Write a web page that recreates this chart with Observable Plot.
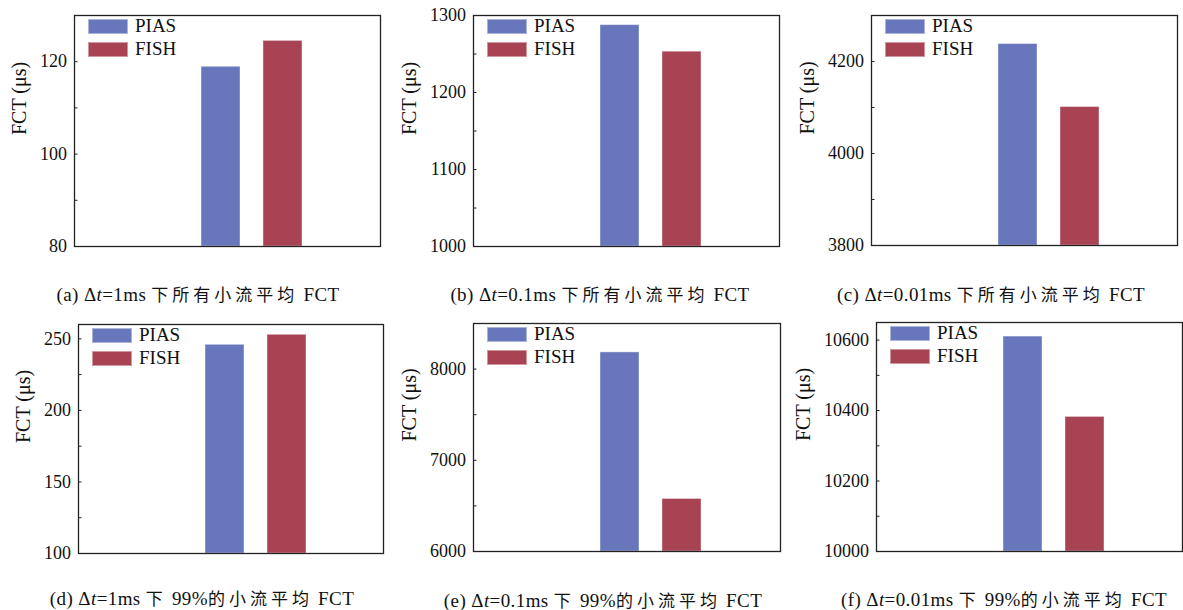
<!DOCTYPE html>
<html>
<head>
<meta charset="utf-8">
<script src="https://cdn.jsdelivr.net/npm/d3@7"></script>
<script src="https://cdn.jsdelivr.net/npm/@observablehq/plot@0.6"></script>
<style>
  html, body { margin: 0; padding: 0; background: #fff; }
  #root { position: relative; width: 1183px; height: 610px; overflow: hidden; background: #fff; }
  .panel { position: absolute; }
  .panel svg { max-width: none !important; overflow: visible; font-family: "Liberation Serif", "Times New Roman", serif; }
  .caption { position: absolute; transform: translate(-50%, -50%); white-space: nowrap;
    font-family: "Liberation Serif", "Times New Roman", serif; font-size: 19px; color: #111; letter-spacing: 0.4px; }
  .caption .cjk { font-family: "Noto Sans CJK SC", sans-serif; font-size: 17px; letter-spacing: 4px; }
  .legend { position: absolute; font-family: "Liberation Serif", "Times New Roman", serif; font-size: 19px; color: #111; }
  .legend .row { position: absolute; left: 0; height: 16px; white-space: nowrap; }
  .legend .sw { position: absolute; left: 0; top: 0; width: 40px; height: 15px; box-sizing: border-box; border: 1px solid rgba(255,255,255,0.45); }
  .legend .lb { position: absolute; left: 47px; top: -4px; line-height: 22px; }
</style>
</head>
<body>
<div id="root"></div>
<script>
// ---- data ----
const series = ["PIAS", "FISH"];
const seriesColors = ["#6877BC", "#A84353"];
const piasValues = [118.9, 1287.5, 4238, 245.8, 8183, 10610];
const fishValues = [124.5, 1253, 4101, 252.8, 6576, 10382];
const yDomains = [[80, 130], [1000, 1300], [3800, 4300], [100, 260], [6000, 8500], [10000, 10650]];
const majorTicks = [
  [80, 100, 120],
  [1000, 1100, 1200, 1300],
  [3800, 4000, 4200],
  [100, 150, 200, 250],
  [6000, 7000, 8000],
  [10000, 10200, 10400, 10600]
];
const minorTicks = [
  [90, 110],
  [1050, 1150, 1250],
  [3900, 4100],
  [125, 175, 225],
  [6500, 7500],
  [10100, 10300, 10500]
];
const yLabel = "FCT (μs)";
const captionLetters = ["(a)", "(b)", "(c)", "(d)", "(e)", "(f)"];
const captionDt = ["1ms", "0.1ms", "0.01ms", "1ms", "0.1ms", "0.01ms"];
const captionPct = ["", "", "", "99%", "99%", "99%"];
const captionText = ["所有小流平均", "所有小流平均", "所有小流平均", "的小流平均", "的小流平均", "的小流平均"];

// ---- layout (page pixels) ----
const frames = [
  {L: 74, T: 15, W: 306, H: 231},
  {L: 473, T: 15, W: 306, H: 231},
  {L: 871, T: 15, W: 306, H: 230},
  {L: 78, T: 324, W: 305, H: 229},
  {L: 473, T: 323, W: 307, H: 228},
  {L: 876, T: 322, W: 306, H: 229}
];
const captionPos = [[198, 293], [600, 293], [991, 293], [202, 597], [603, 599], [1004, 598]];

const root = document.getElementById("root");
const ml = 90, mt = 10, mr = 4, mb = 6;

frames.forEach((f, i) => {
  const rows = series.map((s, j) => ({series: s, value: (j === 0 ? piasValues : fishValues)[i]}));
  const yd = yDomains[i];
  const maxLen = d3.max(majorTicks[i], t => String(t).length);
  const labelDx = maxLen * 9 + 28;
  const chart = Plot.plot({
    width: ml + f.W + mr,
    height: mt + f.H + mb,
    marginLeft: ml, marginTop: mt, marginRight: mr, marginBottom: mb,
    style: {fontFamily: "Liberation Serif, Times New Roman, serif", fontSize: "18px", background: "transparent", overflow: "visible", color: "#111"},
    x: {type: "band", domain: series, range: [ml + 126.5, ml + 229.5], paddingInner: 0.365, paddingOuter: 0, axis: null},
    y: {domain: yd, label: null},
    color: {domain: series, range: seriesColors},
    marks: [
      Plot.barY(rows, {x: "series", y1: yd[0], y2: "value", fill: "series", stroke: "white", strokeOpacity: 0.4, strokeWidth: 1}),
      Plot.axisY({ticks: majorTicks[i], tickSize: -3.5, tickPadding: 11, tickFormat: d => String(d), label: null, stroke: "#222", fill: "#111", fontSize: 18}),
      Plot.axisY({ticks: minorTicks[i], tickSize: -3.5, tickFormat: () => "", label: null, stroke: "#222"}),
      Plot.frame({stroke: "#222", strokeWidth: 1.3}),
      Plot.text([yLabel], {frameAnchor: "left", dx: -labelDx, dy: 4, rotate: -90, text: d => d, fontSize: 20, fill: "#111"})
    ]
  });
  const wrap = document.createElement("div");
  wrap.className = "panel";
  wrap.style.left = (f.L - ml) + "px";
  wrap.style.top = (f.T - mt) + "px";
  wrap.appendChild(chart);
  root.appendChild(wrap);

  // legend
  const lg = document.createElement("div");
  lg.className = "legend";
  lg.style.left = (f.L + 14) + "px";
  lg.style.top = (f.T + 4) + "px";
  series.forEach((s, j) => {
    const row = document.createElement("div");
    row.className = "row";
    row.style.top = (j * 22.5) + "px";
    const sw = document.createElement("div");
    sw.className = "sw";
    sw.style.background = seriesColors[j];
    const lb = document.createElement("div");
    lb.className = "lb";
    lb.textContent = s;
    row.appendChild(sw);
    row.appendChild(lb);
    lg.appendChild(row);
  });
  root.appendChild(lg);

  // caption
  const cap = document.createElement("div");
  cap.className = "caption";
  cap.style.left = captionPos[i][0] + "px";
  cap.style.top = captionPos[i][1] + "px";
  let html = captionLetters[i] + " Δ<i>t</i>=" + captionDt[i] + " <span class=\"cjk\">下</span>";
  if (captionPct[i]) html += " " + captionPct[i];
  html += "<span class=\"cjk\">" + captionText[i] + "</span> FCT";
  cap.innerHTML = html;
  root.appendChild(cap);
});
</script>
</body>
</html>
